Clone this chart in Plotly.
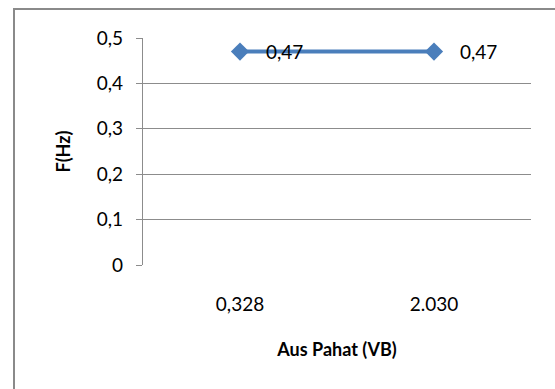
import plotly.graph_objects as go

categories = ["0,328", "2.030"]
values = [0.47, 0.47]
labels = ["0,47", "0,47"]
y_ticks = [0, 0.1, 0.2, 0.3, 0.4, 0.5]
y_tick_text = ["0", "0,1", "0,2", "0,3", "0,4", "0,5"]

FONT = "Lato"
GRID = "#8c8c8c"

fig = go.Figure()
fig.add_trace(go.Scatter(
    x=categories, y=values, mode="lines+markers",
    line=dict(color="#4a7ebb", width=4),
    marker=dict(symbol="diamond", size=14, color="#4a7ebb"),
    cliponaxis=False, showlegend=False, hoverinfo="skip",
))

for i, (v, t) in enumerate(zip(values, labels)):
    fig.add_annotation(x=i, y=v, text=t, showarrow=False,
                       xanchor="left", yanchor="middle", xshift=24, yshift=0,
                       font=dict(family=FONT, size=19, color="#000000"))

fig.update_layout(
    width=555, height=389,
    margin=dict(l=143, r=24, t=38, b=124),
    paper_bgcolor="white", plot_bgcolor="white",
    font=dict(family=FONT, size=19, color="#000000"),
    xaxis=dict(
        type="category", range=[-0.5, 1.5], automargin=False,
        showgrid=False, showline=False, zeroline=False, ticks="",
        ticklabelstandoff=26,
        title=dict(text="<b>Aus Pahat (VB)</b>", font=dict(family=FONT, size=18), standoff=29),
    ),
    yaxis=dict(
        range=[0, 0.5], tickvals=y_ticks, ticktext=y_tick_text, automargin=False,
        showgrid=True, gridcolor=GRID, gridwidth=1.3,
        showline=True, linecolor=GRID, linewidth=1.3,
        zeroline=False,
        ticks="outside", ticklen=6, tickcolor=GRID, tickwidth=1.3,
        ticklabelstandoff=9,
        title=dict(text="<b>F(Hz)</b>", font=dict(family=FONT, size=18), standoff=21),
    ),
)

# outer chart border: only its left and top sides fall inside the picture
bx0, bx1 = (14 - 143) / 388, (600 - 143) / 388
by0, by1 = (265 - 420) / 227, (265 - 9) / 227
fig.add_shape(type="path", xref="paper", yref="paper",
              path=f"M {bx0},{by0} L {bx0},{by1} L {bx1},{by1}",
              line=dict(color="#8a8a8a", width=2), layer="below")

fig.write_html(
    "out.html", config={"displayModeBar": False},
    post_script=("document.body.style.margin='0';"
                 "document.body.style.overflow='hidden';"
                 "document.documentElement.style.overflow='hidden';"),
)
